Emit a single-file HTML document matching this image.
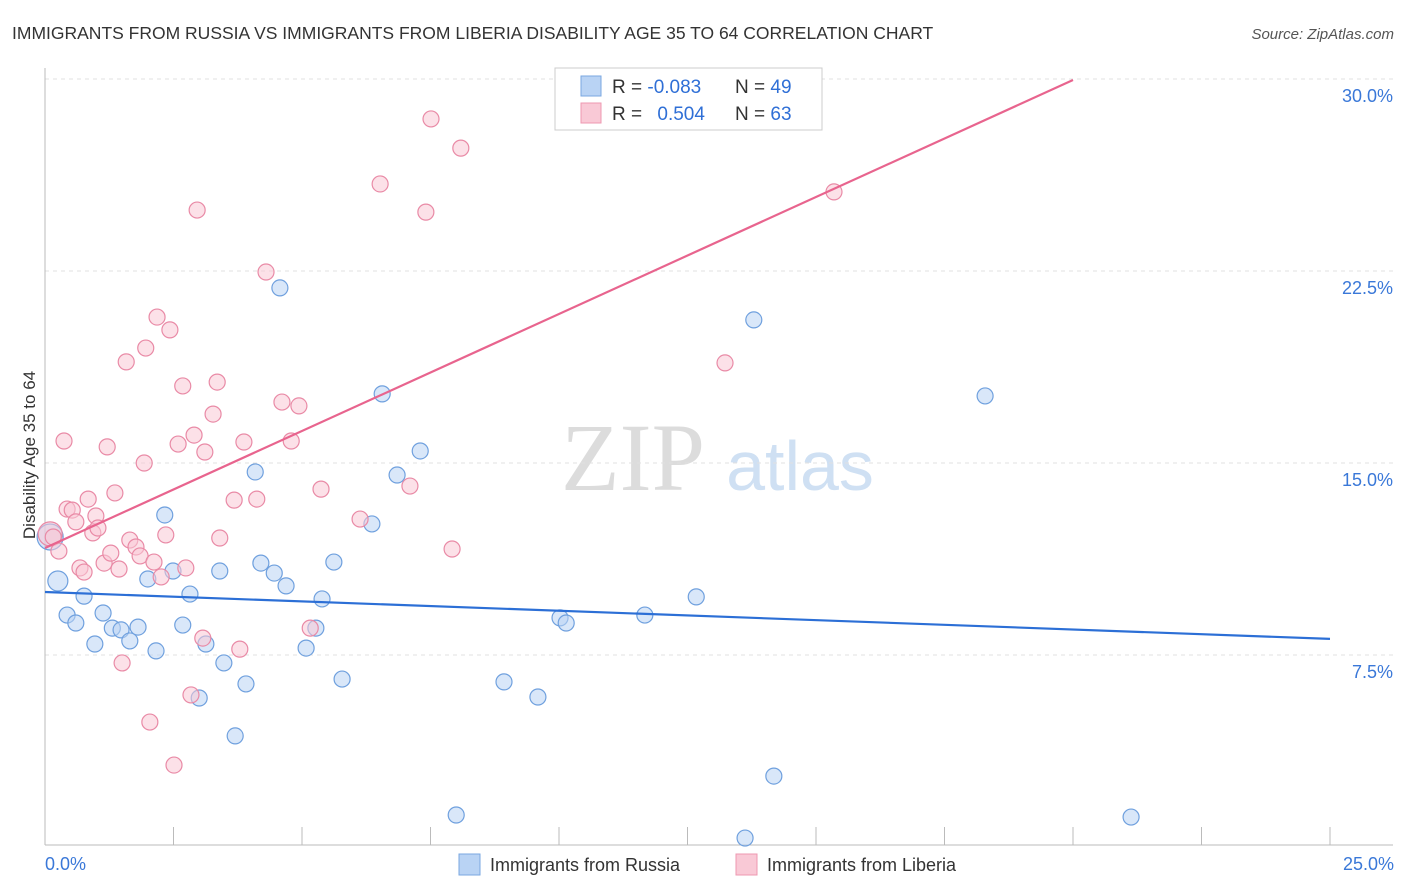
<!DOCTYPE html>
<html><head><meta charset="utf-8"><style>
body{margin:0;background:#fff;font-family:"Liberation Sans",sans-serif;}
#wrap{position:relative;width:1406px;height:892px;overflow:hidden;}
</style></head><body>
<div id="wrap">
<svg id="svg" width="1406" height="892" xmlns="http://www.w3.org/2000/svg">
<text x="12" y="39" font-size="17.5" fill="#333">IMMIGRANTS FROM RUSSIA VS IMMIGRANTS FROM LIBERIA DISABILITY AGE 35 TO 64 CORRELATION CHART</text>
<text x="1394" y="39" font-size="15" fill="#555" font-style="italic" text-anchor="end">Source: ZipAtlas.com</text>
<text x="633" y="490" font-size="96" fill="#dcdcdc" font-family="Liberation Serif,serif" text-anchor="middle">ZIP</text>
<text x="800" y="490" font-size="70" fill="#cfe0f3" text-anchor="middle">atlas</text>
<g id="grid"></g><g id="axes"></g><g id="pts"></g><g id="lines"></g>
<text x="35" y="455" font-size="17" fill="#333" text-anchor="middle" transform="rotate(-90 35 455)">Disability Age 35 to 64</text>
<text x="45" y="870" font-size="18" fill="#3a78d8">0.0%</text>
<text x="1394" y="870" font-size="18" fill="#3a78d8" text-anchor="end">25.0%</text>
<g>
<rect x="555" y="68" width="267" height="62" fill="#fff" stroke="#ccc"/>
<rect x="581" y="76" width="20" height="20" fill="#b9d3f4" stroke="#7aa7e0"/>
<rect x="581" y="103" width="20" height="20" fill="#f9c9d6" stroke="#ee98b0"/>
<text x="612" y="93" font-size="19" fill="#333">R = <tspan fill="#2f6fd6">-0.083</tspan></text>
<text x="735" y="93" font-size="19" fill="#333">N = <tspan fill="#2f6fd6">49</tspan></text>
<text x="612" y="120" font-size="19" fill="#333">R = <tspan fill="#2f6fd6" dx="10">0.504</tspan></text>
<text x="735" y="120" font-size="19" fill="#333">N = <tspan fill="#2f6fd6">63</tspan></text>
</g>
<g>
<rect x="459" y="854" width="21" height="21" fill="#b9d3f4" stroke="#7aa7e0"/>
<text x="490" y="871" font-size="18" fill="#333">Immigrants from Russia</text>
<rect x="736" y="854" width="21" height="21" fill="#f9c9d6" stroke="#ee98b0"/>
<text x="767" y="871" font-size="18" fill="#333">Immigrants from Liberia</text>
</g>
</svg>
</div>
<script>
const yTicks=[7.5,15,22.5,30];
const yTickLabels=["7.5%","15.0%","22.5%","30.0%"];
const xTicks=[0,2.5,5,7.5,10,12.5,15,17.5,20,22.5,25];
const russiaX=[0.10,0.25,0.43,0.60,0.76,0.97,1.13,1.31,1.48,1.65,1.81,2.00,2.16,2.33,2.49,2.68,2.82,3.00,3.13,3.40,3.48,3.70,3.91,4.09,4.20,4.46,4.57,4.69,5.08,5.27,5.39,5.62,5.78,6.36,6.56,6.85,7.30,8.00,8.93,9.59,10.02,10.14,11.67,12.67,13.62,13.79,14.18,18.29,21.13];
const russiaY=[12.11,10.39,9.06,8.75,9.80,7.93,9.14,8.55,8.48,8.05,8.59,10.47,7.66,12.97,10.78,8.67,9.88,5.82,7.93,10.78,7.19,4.34,6.37,14.65,11.09,10.70,21.84,10.20,7.77,8.55,9.69,11.13,6.56,12.62,17.70,14.53,15.47,1.25,6.45,5.86,8.95,8.75,9.06,9.77,0.35,20.59,2.77,17.62,1.17];
const liberiaX=[0.10,0.16,0.27,0.37,0.43,0.53,0.60,0.68,0.76,0.84,0.93,0.99,1.03,1.15,1.21,1.28,1.36,1.44,1.50,1.58,1.65,1.77,1.85,1.93,1.96,2.04,2.12,2.18,2.26,2.35,2.43,2.51,2.59,2.68,2.74,2.84,2.90,2.96,3.07,3.11,3.27,3.35,3.40,3.68,3.79,3.87,4.12,4.30,4.61,4.79,4.94,5.16,5.37,6.13,6.52,7.10,7.41,7.51,7.92,8.09,13.23,15.35];
const liberiaY=[12.23,12.11,11.56,15.86,13.20,13.16,12.70,10.90,10.74,13.59,12.27,12.93,12.46,11.09,15.63,11.48,13.83,10.86,7.19,18.95,11.99,11.72,11.37,15.00,19.49,4.88,11.13,20.70,10.55,12.19,20.20,3.20,15.74,18.01,10.90,5.94,16.09,24.88,8.16,15.43,16.91,18.16,12.07,13.55,7.73,15.82,13.59,22.46,17.38,15.86,17.23,8.55,13.98,12.81,25.90,14.10,24.80,28.44,11.64,27.30,18.91,25.59];
const russiaTrend=[9.96,8.13];
const liberiaTrend=[11.68,29.96,20];
const NS="http://www.w3.org/2000/svg";
const X=v=>45+v*51.4, Y=v=>847-v*25.6;
function mk(t,a,p){const e=document.createElementNS(NS,t);for(const k in a)e.setAttribute(k,a[k]);document.getElementById(p).appendChild(e);return e;}
yTicks.forEach((t,i)=>{
 const l=mk('line',{x1:45,x2:1393,y1:Y(t),y2:Y(t),stroke:'#e0e0e0','stroke-dasharray':'4,4'},'grid');
 
 
 const tx=mk('text',{x:1393,y:Y(t)+23,'font-size':18,fill:'#3a78d8','text-anchor':'end'},'axes');
 tx.textContent=yTickLabels[i];
 
 
});
const ax=mk('line',{x1:45,x2:1393,y1:845,y2:845,stroke:'#bbb'},'axes');


const ay=mk('line',{x1:45,x2:45,y1:68,y2:845,stroke:'#bbb'},'axes');


xTicks.forEach(t=>{
 const l=mk('line',{x1:X(t),x2:X(t),y1:827,y2:845,stroke:'#bbb'},'axes');
 
 
});
function pts(xs,ys,fill,stroke,name){
 xs.forEach((x,i)=>{
  const c=mk('circle',{cx:X(x),cy:Y(ys[i]),r:(i==0&&name=='liberia-point')?12:(i<2&&name=='russia-point'?(i==0?13:10):8),fill:fill,'fill-opacity':0.55,stroke:stroke,'stroke-width':1.2},'pts');
  
  
 });
}
pts(russiaX,russiaY,'#b9d3f4','#6fa0de','russia-point');
pts(liberiaX,liberiaY,'#f9c9d6','#e98aa6','liberia-point');
const bl=mk('line',{x1:X(0),x2:X(25),y1:Y(russiaTrend[0]),y2:Y(russiaTrend[1]),stroke:'#2c6fd6','stroke-width':2.2},'lines');


const pl=mk('line',{x1:X(0),x2:X(liberiaTrend[2]),y1:Y(liberiaTrend[0]),y2:Y(liberiaTrend[1]),stroke:'#e8648e','stroke-width':2.2},'lines');


</script>
</body></html>
